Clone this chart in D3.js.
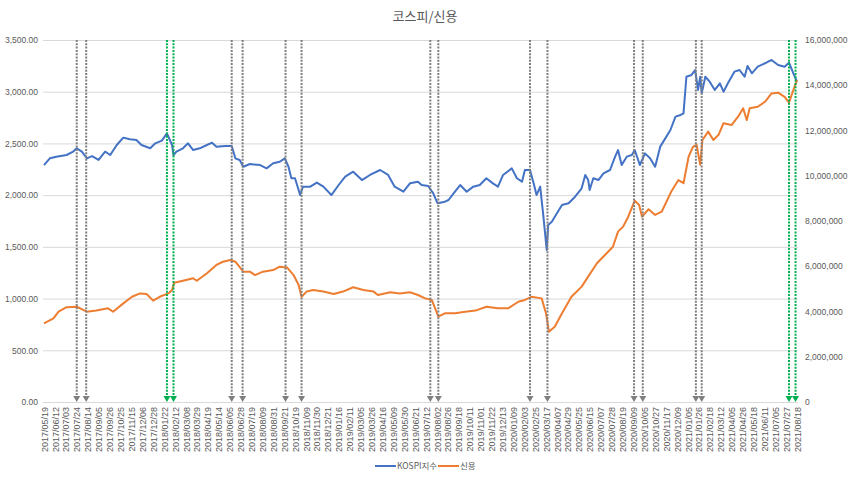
<!DOCTYPE html>
<html>
<head>
<meta charset="utf-8">
<script src="https://cdn.jsdelivr.net/npm/d3@7"></script>
<style>
  body { margin: 0; background: #fff; }
  svg { display: block; font-family: "Noto Sans CJK KR", "Open Sans", sans-serif; }
</style>
</head>
<body>
<svg id="chart" width="850" height="477"></svg>
<script>
// ---- data ----
const dateLabels = ["2017/05/19","2017/06/12","2017/07/03","2017/07/24","2017/08/14","2017/09/05","2017/09/26","2017/10/25","2017/11/15","2017/12/06","2017/12/28","2018/01/22","2018/02/12","2018/03/08","2018/03/29","2018/04/19","2018/05/14","2018/06/05","2018/06/28","2018/07/19","2018/08/09","2018/08/31","2018/09/21","2018/10/19","2018/11/09","2018/11/30","2018/12/21","2019/01/16","2019/02/11","2019/03/05","2019/03/26","2019/04/16","2019/05/09","2019/05/30","2019/06/21","2019/07/12","2019/08/02","2019/08/26","2019/09/18","2019/10/11","2019/11/01","2019/11/22","2019/12/13","2020/01/09","2020/02/03","2020/02/25","2020/03/17","2020/04/07","2020/04/29","2020/05/25","2020/06/15","2020/07/07","2020/07/28","2020/08/19","2020/09/09","2020/10/05","2020/10/27","2020/11/17","2020/12/09","2021/01/05","2021/01/26","2021/02/18","2021/03/12","2021/04/05","2021/04/26","2021/05/18","2021/06/11","2021/07/05","2021/07/27","2021/08/18"];
const labelEvery = 15;   // one label every 15 trading days
const lastDay = 1035;    // trading-day index of the last observation

// KOSPI index: [trading-day index, value]
const kospiDay = [0,8,17,31,40,45,52,59,66,75,84,91,100,109,118,127,134,146,153,162,169,176,178,182,191,198,205,214,224,231,237,249,258,263,269,274,283,297,306,315,324,331,336,340,345,350,352,356,366,375,384,395,405,414,425,437,448,462,473,482,494,503,514,519,528,535,541,551,556,563,572,581,590,599,608,617,624,631,643,650,657,661,668,673,677,682,686,691,693,698,705,712,721,730,739,744,748,750,755,762,769,778,785,789,794,801,808,812,819,826,833,840,847,854,861,868,875,879,883,890,895,899,902,904,909,915,922,929,934,940,949,956,963,967,973,981,991,1000,1009,1018,1024,1030,1035];
const kospiVal = [2290,2356,2372,2388,2420,2453,2420,2356,2378,2340,2420,2388,2485,2556,2540,2533,2485,2453,2501,2527,2598,2485,2388,2420,2453,2501,2436,2453,2485,2507,2469,2475,2475,2356,2340,2275,2301,2291,2259,2308,2323,2356,2275,2163,2163,2050,2001,2082,2082,2121,2082,2001,2098,2179,2227,2146,2195,2243,2195,2082,2033,2114,2130,2098,2088,2018,1921,1937,1953,2018,2098,2033,2082,2098,2163,2114,2082,2195,2259,2163,2130,2243,2243,2114,2001,2082,1824,1470,1711,1743,1824,1905,1921,1985,2066,2195,2146,2050,2163,2146,2211,2243,2372,2436,2291,2372,2388,2436,2291,2404,2356,2275,2469,2549,2630,2759,2775,2791,3145,3162,3210,3017,3145,2985,3145,3097,3017,3081,3000,3081,3194,3210,3145,3248,3178,3242,3275,3307,3258,3242,3281,3178,3097];

// Credit balance (신용): [trading-day index, value]
const creditDay = [0,13,20,31,45,59,72,88,95,109,121,132,141,150,159,171,176,179,191,205,210,224,237,246,256,263,274,283,290,301,315,324,334,343,350,354,361,370,384,398,411,425,439,453,459,476,489,503,514,524,533,542,551,565,579,593,608,624,638,652,661,670,684,690,694,702,712,725,739,748,760,771,782,789,796,803,812,818,822,831,840,849,862,872,879,886,892,897,902,905,913,920,927,934,945,954,961,966,970,981,991,1000,1009,1018,1024,1030,1035];
const creditVal = [3480000,3700000,3990000,4190000,4210000,3990000,4040000,4140000,3990000,4360000,4650000,4800000,4770000,4480000,4650000,4800000,4950000,5270000,5360000,5470000,5360000,5690000,6060000,6200000,6280000,6200000,5760000,5760000,5610000,5760000,5830000,5980000,5950000,5610000,5170000,4650000,4880000,4950000,4880000,4770000,4880000,5070000,4950000,4880000,4730000,4850000,4800000,4850000,4730000,4580000,4510000,3770000,3920000,3920000,3990000,4040000,4210000,4140000,4140000,4430000,4510000,4650000,4580000,3920000,3110000,3330000,3920000,4650000,5100000,5540000,6130000,6500000,6860000,7530000,7750000,8190000,8900000,8710000,8190000,8520000,8270000,8410000,9290000,9810000,9670000,10840000,11280000,11360000,10480000,11580000,11950000,11580000,11800000,12320000,12240000,12610000,12980000,12460000,12980000,13050000,13270000,13640000,13670000,13490000,13230000,13790000,14230000];

// event markers (trading-day index)
const grayMarkerDays = [45,58,258,273,332,354,531,542,668,692,811,823,896,904];
const greenMarkerDays = [169,178,1024,1033];

const leftTicks = [0,500,1000,1500,2000,2500,3000,3500];
const rightTicks = [0,2000000,4000000,6000000,8000000,10000000,12000000,14000000,16000000];

const title = "코스피/신용";
const seriesNames = ["KOSPI지수","신용"];
const colors = { kospi: "#4472C4", credit: "#ED7D31", gray: "#7F7F7F", green: "#00B050", grid: "#D9D9D9", text: "#595959" };

// ---- layout ----
const svg = d3.select("#chart");
const plot = { left: 43, right: 798, top: 40, bottom: 402 };

const x = d3.scaleLinear().domain([0, lastDay]).range([44, 797]);
const yL = d3.scaleLinear().domain([0, 3500]).range([plot.bottom, plot.top]);
const yR = d3.scaleLinear().domain([0, 16000000]).range([plot.bottom, plot.top]);

// gridlines
svg.append("g")
  .selectAll("line").data(leftTicks).join("line")
  .attr("x1", plot.left).attr("x2", plot.right)
  .attr("y1", d => yL(d) + 0.5).attr("y2", d => yL(d) + 0.5)
  .attr("stroke", colors.grid).attr("stroke-width", 1);

// left axis
const gL = svg.append("g").attr("transform", `translate(${plot.left - 5},0)`)
  .call(d3.axisLeft(yL).tickValues(leftTicks).tickFormat(d3.format(",.2f")).tickSize(0).tickPadding(0));
gL.select(".domain").remove();
gL.selectAll("text").attr("fill", colors.text).style("font-size", "8.5px").style("font-family", "inherit");

// right axis
const gR = svg.append("g").attr("transform", `translate(${plot.right + 7},0)`)
  .call(d3.axisRight(yR).tickValues(rightTicks).tickFormat(d3.format(",")).tickSize(0).tickPadding(0));
gR.select(".domain").remove();
gR.selectAll("text").attr("fill", colors.text).style("font-size", "8.5px").style("font-family", "inherit");

// x axis
const tickDays = dateLabels.map((d, i) => i * labelEvery);
const gX = svg.append("g").attr("transform", `translate(0,${plot.bottom})`)
  .call(d3.axisBottom(x).tickValues(tickDays).tickFormat((d, i) => dateLabels[i]).tickSize(0));
gX.select(".domain").remove();
gX.selectAll("text")
  .attr("fill", colors.text).style("font-size", "9px").style("font-family", "inherit")
  .attr("text-anchor", "end")
  .attr("transform", "rotate(-90)")
  .attr("x", -5).attr("y", 0).attr("dy", "0.35em");

// series lines
const kospiData = kospiDay.map((d, i) => [d, kospiVal[i]]);
const creditData = creditDay.map((d, i) => [d, creditVal[i]]);

svg.append("path").datum(kospiData)
  .attr("fill", "none").attr("stroke", colors.kospi).attr("stroke-width", 2).attr("stroke-linejoin", "round")
  .attr("d", d3.line().x(d => x(d[0])).y(d => yL(d[1])));

svg.append("path").datum(creditData)
  .attr("fill", "none").attr("stroke", colors.credit).attr("stroke-width", 2).attr("stroke-linejoin", "round")
  .attr("d", d3.line().x(d => x(d[0])).y(d => yR(d[1])));

// event markers: dotted arrows
function drawMarkers(days, color) {
  const g = svg.append("g");
  const top = yL(3500), bottom = yL(0), head = 6;
  g.selectAll("line").data(days).join("line")
    .attr("x1", d => x(d)).attr("x2", d => x(d))
    .attr("y1", top).attr("y2", bottom - head)
    .attr("stroke", color).attr("stroke-width", 2).attr("stroke-dasharray", "2,1.3");
  g.selectAll("path").data(days).join("path")
    .attr("d", d => `M${x(d) - 3.5},${bottom - head}L${x(d) + 3.5},${bottom - head}L${x(d)},${bottom}Z`)
    .attr("fill", color);
}
drawMarkers(grayMarkerDays, colors.gray);
drawMarkers(greenMarkerDays, colors.green);

// title
svg.append("text").attr("x", 425).attr("y", 21).attr("text-anchor", "middle")
  .attr("fill", colors.text).style("font-size", "13px").text(title);

// legend
const legend = svg.append("g").attr("transform", "translate(375,466)");
const legendItems = [
  { name: seriesNames[0], color: colors.kospi, dx: 0 },
  { name: seriesNames[1], color: colors.credit, dx: 63 }
];
const li = legend.selectAll("g").data(legendItems).join("g").attr("transform", d => `translate(${d.dx},0)`);
li.append("line").attr("x1", 0).attr("x2", 21).attr("y1", 0).attr("y2", 0)
  .attr("stroke", d => d.color).attr("stroke-width", 2);
li.append("text").attr("x", 22).attr("y", 0).attr("dy", "0.35em")
  .attr("fill", colors.text).style("font-size", "8.5px").text(d => d.name);
</script>
</body>
</html>
